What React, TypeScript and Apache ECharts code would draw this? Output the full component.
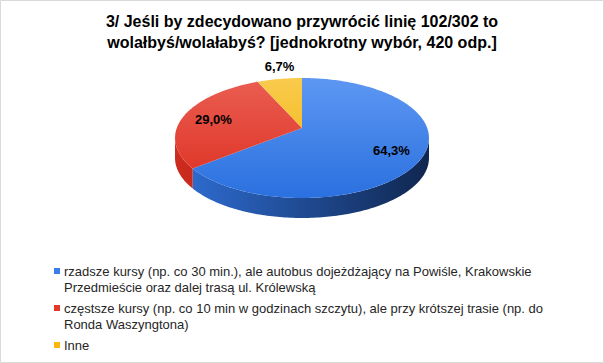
import React, { useEffect, useRef } from "react";
import * as echarts from "echarts";

const titleLines = [
  "3/ Jeśli by zdecydowano przywrócić linię 102/302 to",
  "wolałbyś/wolałabyś? [jednokrotny wybór, 420 odp.]",
];
const categories = [
  "rzadsze kursy (np. co 30 min.), ale autobus dojeżdżający na Powiśle, Krakowskie Przedmieście oraz dalej trasą ul. Królewską",
  "częstsze kursy (np. co 10 min w godzinach szczytu), ale przy krótszej trasie (np. do Ronda Waszyngtona)",
  "Inne",
];
const values = [64.3, 29.0, 6.7];

const topColors = [
  ["#5d97f2", "#2a70df"],
  ["#ea5e52", "#dc2d1e"],
  ["#f9cb4e", "#f1ae00"],
];
const sideColors = [
  ["#2f6fd6", "#10264f"],
  ["#cc2b1d", "#a01c12"],
  ["#d99a00", "#a87800"],
];
const legendColors = ["#3b7ee9", "#e3392b", "#f9b90c"];

const FONT = "'Liberation Sans', Arial, sans-serif";

function wrap(text: string, font: string, maxW: number): string[] {
  const ctx = document.createElement("canvas").getContext("2d")!;
  ctx.font = font;
  const words = text.split(" ");
  const lines: string[] = [];
  let cur = "";
  for (const w of words) {
    const t = cur ? cur + " " + w : w;
    if (ctx.measureText(t).width > maxW && cur) {
      lines.push(cur);
      cur = w;
    } else cur = t;
  }
  if (cur) lines.push(cur);
  return lines;
}

export default function App() {
  const ref = useRef<HTMLDivElement>(null);
  useEffect(() => {
    const chart = echarts.init(ref.current!, null, { renderer: "svg" });
    const total = values.reduce((a, b) => a + b, 0);
    const starts: number[] = [];
    let acc = 0;
    values.forEach((v) => {
      starts.push((acc / total) * Math.PI * 2);
      acc += v;
    });
    // perspective-projected disc
    const cx = 302, cy = 128, sx = 125.2, sy = 58.33, k = 1 / 6, depth = 20;
    const proj = (t: number, f = 1, dy = 0) => {
      const X = f * Math.sin(t);
      const Z = f * Math.cos(t);
      const d = 1 + k * Z;
      return [cx + (sx * X) / d, cy - (sy * Z) / d + dy];
    };
    const arc = (a: number, b: number, dy = 0) => {
      const n = Math.max(2, Math.ceil(((b - a) * 180) / Math.PI));
      const pts: number[][] = [];
      for (let j = 0; j <= n; j++) pts.push(proj(a + ((b - a) * j) / n, 1, dy));
      return pts;
    };
    const sil = Math.acos(-k);

    const renderItem = (params: any) => {
      const i = params.dataIndex;
      const a = starts[i];
      const b = a + (values[i] / total) * Math.PI * 2;
      const children: any[] = [];
      const sa = Math.max(a, sil);
      const sb = Math.min(b, Math.PI * 2 - sil);
      if (sa < sb) {
        const pts = arc(sa, sb).concat(arc(sa, sb, depth).reverse());
        children.push({
          type: "polygon",
          shape: { points: pts },
          style: {
            fill: {
              type: "linear", x: cx - 127, y: 0, x2: cx + 127, y2: 0, global: true,
              colorStops: [
                { offset: 0, color: sideColors[i][0] },
                { offset: 1, color: sideColors[i][1] },
              ],
            },
          },
        });
      }
      children.push({
        type: "polygon",
        shape: { points: [[cx, cy]].concat(arc(a, b)) },
        style: {
          fill: {
            type: "linear", x: 0, y: cy - 50, x2: 0, y2: cy + 70, global: true,
            colorStops: [
              { offset: 0, color: topColors[i][0] },
              { offset: 1, color: topColors[i][1] },
            ],
          },
        },
      });
      const pct = (values[i] / total) * 100;
      const mid = (a + b) / 2;
      let lp: number[];
      if (pct < 10) {
        lp = proj(mid, 1, -12);
      } else {
        lp = proj(mid, 0.75, 2);
      }
      children.push({
        type: "text",
        x: lp[0],
        y: lp[1],
        z2: 10,
        style: {
          text: pct.toFixed(1).replace(".", ",") + "%",
          font: `bold 13px ${FONT}`,
          fill: "#000",
          align: "center",
          verticalAlign: "middle",
        },
      });
      return { type: "group", children };
    };

    const legendFont = `13px ${FONT}`;
    const graphics: any[] = [
      {
        type: "rect",
        shape: { x: 0.5, y: 0.5, width: 603, height: 362 },
        style: { fill: "none", stroke: "#d9d9d9", lineWidth: 1 },
        silent: true,
      },
    ];
    let y = 271;
    categories.forEach((c, i) => {
      graphics.push({
        type: "rect",
        shape: { x: 54, y: y - 3, width: 6, height: 6 },
        style: { fill: legendColors[i] },
      });
      const lines = wrap(c, legendFont, 482);
      lines.forEach((ln) => {
        graphics.push({
          type: "text",
          x: 64,
          y,
          style: { text: ln, font: legendFont, fill: "#262626", verticalAlign: "middle" },
        });
        y += 16.5;
      });
      y += 4;
    });

    chart.setOption({
      animation: false,
      title: {
        text: titleLines.join("\n"),
        left: "center",
        top: 6,
        textStyle: {
          fontFamily: FONT,
          fontSize: 16,
          fontWeight: "bold",
          color: "#000",
          lineHeight: 21,
        },
      },
      series: [
        {
          type: "custom",
          coordinateSystem: "none",
          renderItem,
          data: values,
        },
      ],
      graphic: graphics,
    });
    return () => chart.dispose();
  }, []);
  return (
    <div
      ref={ref}
      style={{ position: "fixed", left: 0, top: 0, width: 604, height: 363, background: "#fff" }}
    />
  );
}
